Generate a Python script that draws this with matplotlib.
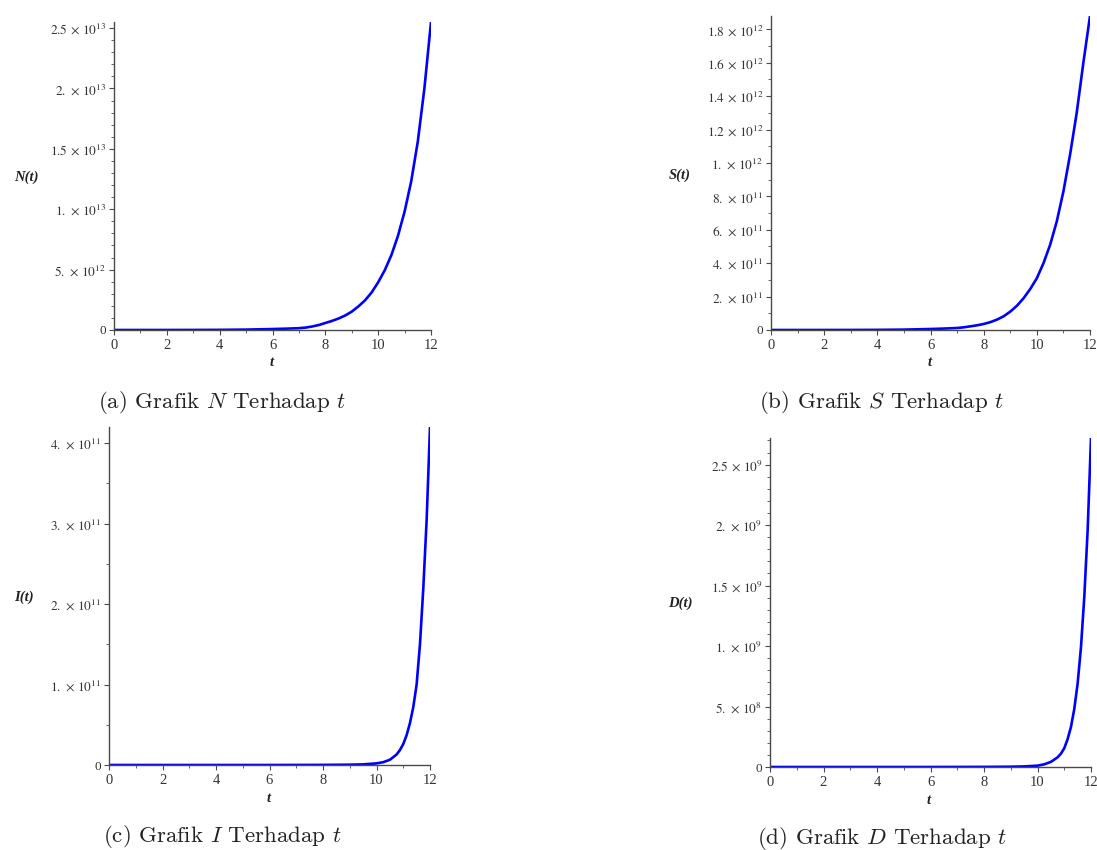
import matplotlib
matplotlib.use("Agg")
import matplotlib.pyplot as plt
from matplotlib.ticker import FixedLocator, MultipleLocator

# ---------------- data ----------------
t_NS = [0, 1, 2, 3, 4, 5, 6, 6.5, 7, 7.25, 7.5, 7.75, 8, 8.25, 8.5, 8.75, 9,
        9.25, 9.5, 9.75, 10, 10.25, 10.5, 10.75, 11, 11.25, 11.5, 11.75, 12]
N_vals = [3e8, 8e8, 2e9, 5e9, 1.3e10, 3.3e10, 8e10, 1.1e11, 1.5e11, 2.0e11,
          2.9e11, 4.1e11, 5.8e11, 7.5e11, 9.5e11, 1.2e12, 1.52e12, 1.95e12,
          2.45e12, 3.1e12, 3.95e12, 4.95e12, 6.2e12, 7.8e12, 9.8e12, 1.23e13,
          1.56e13, 2.0e13, 2.55e13]
S_vals = [2e7, 5e7, 1.3e8, 3.4e8, 9e8, 2.3e9, 6e9, 8.5e9, 1.2e10, 1.6e10,
          2.2e10, 2.8e10, 3.6e10, 4.7e10, 6.2e10, 8.2e10, 1.1e11, 1.45e11,
          1.9e11, 2.45e11, 3.1e11, 4.0e11, 5.1e11, 6.5e11, 8.3e11, 1.05e12,
          1.3e12, 1.6e12, 1.88e12]

t_ID = [0, 2, 4, 6, 8, 9, 9.5, 10, 10.25, 10.5, 10.75, 10.875, 11, 11.125,
        11.25, 11.375, 11.5, 11.625, 11.75, 11.875, 12]
I_vals = [1e4, 1e5, 1e6, 1e7, 1.5e8, 4e8, 8e8, 2e9, 3.5e9, 6.5e9, 1.3e10,
          1.85e10, 2.6e10, 3.7e10, 5.2e10, 7.2e10, 1.0e11, 1.5e11, 2.2e11,
          3.05e11, 4.2e11]
D_vals = [1e2, 1e3, 1e4, 1e5, 1e6, 2.5e6, 5e6, 1.1e7, 2.2e7, 4.2e7, 8e7,
          1.1e8, 1.55e8, 2.3e8, 3.3e8, 4.8e8, 6.9e8, 9.9e8, 1.41e9, 1.96e9,
          2.72e9]

x_ticks = [0, 2, 4, 6, 8, 10, 12]
x_ticklabels = ["0", "2", "4", "6", "8", "10", "12"]

N_ticks = [0, 5e12, 1e13, 1.5e13, 2e13, 2.5e13]
N_ticklabels = ["0", r"$5.\,\times\,10^{12}$", r"$1.\,\times\,10^{13}$",
                r"$1.5\,\times\,10^{13}$", r"$2.\,\times\,10^{13}$",
                r"$2.5\,\times\,10^{13}$"]
S_ticks = [0, 2e11, 4e11, 6e11, 8e11, 1e12, 1.2e12, 1.4e12, 1.6e12, 1.8e12]
S_ticklabels = ["0", r"$2.\,\times\,10^{11}$", r"$4.\,\times\,10^{11}$",
                r"$6.\,\times\,10^{11}$", r"$8.\,\times\,10^{11}$",
                r"$1.\,\times\,10^{12}$", r"$1.2\,\times\,10^{12}$",
                r"$1.4\,\times\,10^{12}$", r"$1.6\,\times\,10^{12}$",
                r"$1.8\,\times\,10^{12}$"]
I_ticks = [0, 1e11, 2e11, 3e11, 4e11]
I_ticklabels = ["0", r"$1.\,\times\,10^{11}$", r"$2.\,\times\,10^{11}$",
                r"$3.\,\times\,10^{11}$", r"$4.\,\times\,10^{11}$"]
D_ticks = [0, 5e8, 1e9, 1.5e9, 2e9, 2.5e9]
D_ticklabels = ["0", r"$5.\,\times\,10^{8}$", r"$1.\,\times\,10^{9}$",
                r"$1.5\,\times\,10^{9}$", r"$2.\,\times\,10^{9}$",
                r"$2.5\,\times\,10^{9}$"]

captions = [r"(a) Grafik $N$ Terhadap $t$", r"(b) Grafik $S$ Terhadap $t$",
            r"(c) Grafik $I$ Terhadap $t$", r"(d) Grafik $D$ Terhadap $t$"]
ylabels = ["N(t)", "S(t)", "I(t)", "D(t)"]

# ---------------- layout ----------------
W, H = 1097, 850
fig = plt.figure(figsize=(W / 100, H / 100), dpi=100)
fig.patch.set_facecolor("white")


def px_axes(l, r, b, t):
    return [l / W, (H - b) / H, (r - l) / W, (b - t) / H]


panels = [
    dict(rect=px_axes(114, 431, 330, 22), t=t_NS, y=N_vals, yt=N_ticks,
         yl=N_ticklabels, minor=1e12, ylab=(26, 177), xlab=(272, 362),
         cap=(222, 403)),
    dict(rect=px_axes(771, 1090, 330, 16), t=t_NS, y=S_vals, yt=S_ticks,
         yl=S_ticklabels, minor=1e11, ylab=(680, 175), xlab=(930, 363),
         cap=(882, 403)),
    dict(rect=px_axes(109, 430, 765, 427), t=t_ID, y=I_vals, yt=I_ticks,
         yl=I_ticklabels, minor=5e10, ylab=(24, 597), xlab=(269, 798),
         cap=(222, 837)),
    dict(rect=px_axes(770, 1091, 767, 438), t=t_ID, y=D_vals, yt=D_ticks,
         yl=D_ticklabels, minor=1e8, ylab=(680, 603), xlab=(929, 800),
         cap=(882, 838)),
]

axis_col = "#4a4a4a"
text_col = "#333333"

for i, p in enumerate(panels):
    ax = fig.add_axes(p["rect"])
    ax.plot(p["t"], p["y"], color="#0000ff", lw=1.9, solid_joinstyle="round")
    ax.set_xlim(0, 12)
    ax.set_ylim(0, max(p["y"]))
    for s in ("top", "right"):
        ax.spines[s].set_visible(False)
    for s in ("left", "bottom"):
        ax.spines[s].set_color(axis_col)
        ax.spines[s].set_linewidth(1.0)
    ax.xaxis.set_major_locator(FixedLocator(x_ticks))
    ax.set_xticklabels(x_ticklabels, fontfamily="Liberation Serif",
                       fontsize=10.5, color=text_col)
    ax.xaxis.set_minor_locator(MultipleLocator(1))
    ax.yaxis.set_major_locator(FixedLocator(p["yt"]))
    ax.set_yticklabels(p["yl"], fontfamily="Liberation Serif", fontsize=9.5,
                       color=text_col, math_fontfamily="stix")
    ax.yaxis.set_minor_locator(MultipleLocator(p["minor"]))
    ax.tick_params(which="major", direction="out", length=3.5, width=0.8,
                   color=axis_col, pad=2)
    ax.tick_params(which="minor", direction="out", length=2, width=0.6,
                   color=axis_col)
    ax.tick_params(axis="x", pad=3)
    ax.set_facecolor("white")

    fig.text(p["ylab"][0] / W, 1 - p["ylab"][1] / H, ylabels[i],
             ha="center", va="center", fontfamily="Liberation Serif",
             fontsize=10.5, fontweight="bold", fontstyle="italic",
             color="#222222")
    fig.text(p["xlab"][0] / W, 1 - p["xlab"][1] / H, "t",
             ha="center", va="center", fontfamily="Liberation Serif",
             fontsize=10.5, fontweight="bold", fontstyle="italic",
             color="#222222")
    fig.text(p["cap"][0] / W, 1 - p["cap"][1] / H, captions[i],
             ha="center", va="center", fontfamily="cmr10", fontsize=16.5,
             math_fontfamily="cm", color="#222222")

fig.savefig("out.png", dpi=100, facecolor="white")
